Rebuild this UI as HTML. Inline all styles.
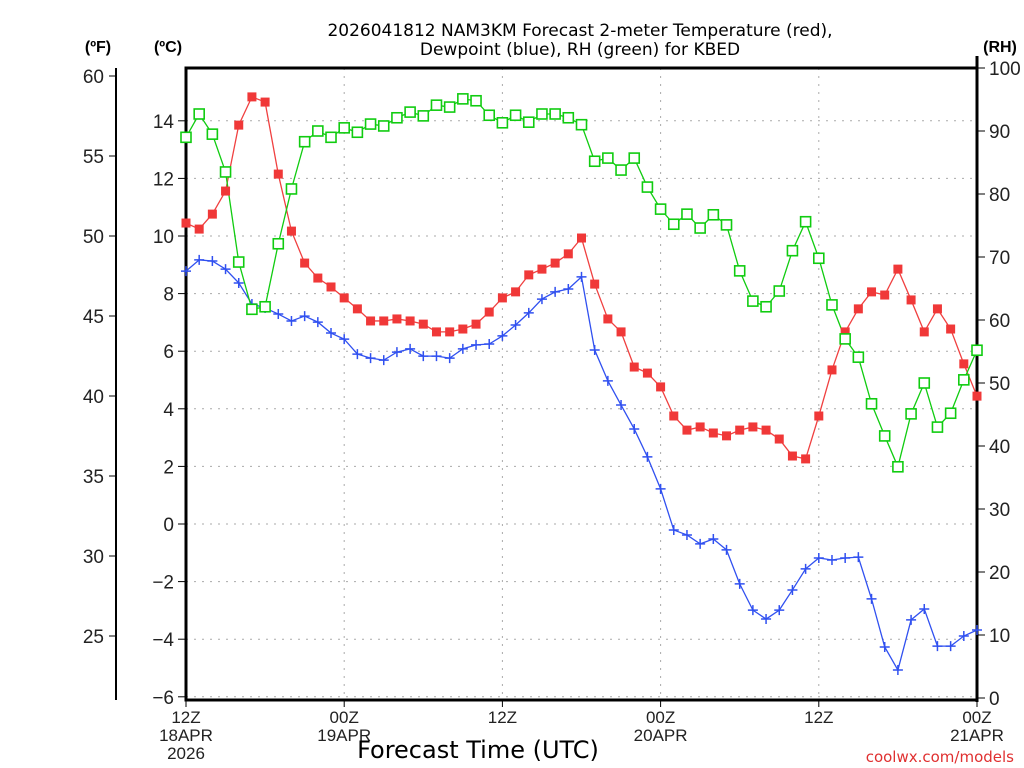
<!DOCTYPE html>
<html><head><meta charset="utf-8">
<style>
body{margin:0;background:#fff;}
svg{display:block;font-family:"Liberation Sans","DejaVu Sans",sans-serif;}
</style></head>
<body>
<svg id="chart" width="1024" height="768" viewBox="0 0 1024 768" xmlns="http://www.w3.org/2000/svg">
<rect width="1024" height="768" fill="#fff"/>
<g id="grid"></g>
<g id="axes"></g>
<g id="series"></g>
<text x="580" y="36" text-anchor="middle" font-size="17" font-family="DejaVu Sans,sans-serif">2026041812 NAM3KM Forecast 2-meter Temperature (red),</text>
<text x="580" y="55" text-anchor="middle" font-size="17" font-family="DejaVu Sans,sans-serif">Dewpoint (blue), RH (green) for KBED</text>
<text x="98" y="52" text-anchor="middle" font-size="16" font-weight="bold">(ºF)</text>
<text x="168" y="52" text-anchor="middle" font-size="16" font-weight="bold">(ºC)</text>
<text x="1000" y="52" text-anchor="middle" font-size="16" font-weight="bold">(RH)</text>
<text x="478" y="758" text-anchor="middle" font-size="24" font-family="DejaVu Sans,sans-serif">Forecast Time (UTC)</text>
<text x="1014" y="762" text-anchor="end" font-size="15" fill="#e03030" font-family="DejaVu Sans,sans-serif">coolwx.com/models</text>
</svg>
<script>
const hours = [];
for (let h = 0; h <= 60; h++) hours.push(h);
const tempC = [10.45,10.24,10.76,11.56,13.85,14.83,14.65,12.15,10.17,9.06,8.54,8.23,7.85,7.47,7.05,7.05,7.12,7.05,6.94,6.67,6.67,6.77,6.94,7.36,7.85,8.06,8.65,8.85,9.06,9.38,9.93,8.33,7.12,6.67,5.45,5.24,4.76,3.75,3.26,3.37,3.16,3.06,3.26,3.37,3.26,2.95,2.36,2.26,3.75,5.35,6.67,7.47,8.06,7.95,8.85,7.78,6.67,7.47,6.77,5.56,4.44];
const dewC = [8.78,9.17,9.13,8.85,8.37,7.64,7.5,7.29,7.05,7.22,7.01,6.63,6.42,5.9,5.76,5.69,5.97,6.08,5.83,5.83,5.76,6.08,6.22,6.25,6.53,6.91,7.33,7.81,8.06,8.16,8.58,6.04,4.97,4.13,3.3,2.33,1.22,-0.21,-0.38,-0.69,-0.52,-0.9,-2.08,-2.99,-3.3,-2.99,-2.29,-1.56,-1.18,-1.25,-1.18,-1.15,-2.6,-4.27,-5.07,-3.33,-2.95,-4.24,-4.24,-3.89,-3.68];
const rh = [89.0,92.7,89.5,83.5,69.2,61.7,62.1,72.1,80.8,88.3,90.0,89.0,90.5,89.8,91.1,90.8,92.1,93.0,92.4,94.1,93.8,95.1,94.8,92.5,91.3,92.5,91.4,92.7,92.7,92.1,91.0,85.2,85.7,83.8,85.7,81.1,77.6,75.2,76.8,74.6,76.7,75.1,67.8,63.0,62.1,64.6,71.0,75.6,69.8,62.4,57.0,54.1,46.7,41.6,36.7,45.1,50.0,43.0,45.2,50.5,55.2];
const cTicks = [-6,-4,-2,0,2,4,6,8,10,12,14];
const fTicks = [25,30,35,40,45,50,55,60];
const rhTicks = [0,10,20,30,40,50,60,70,80,90,100];
const xTickHours = [0,12,24,36,48,60];
const xTickLabels = [["12Z","18APR","2026"],["00Z","19APR"],["12Z"],["00Z","20APR"],["12Z"],["00Z","21APR"]];

const NS = "http://www.w3.org/2000/svg";
const L = 186, R = 977, T = 68, B = 700;
const xs = h => L + (R - L) * h / 60;
const yC = c => 524 - 28.8 * c;
const yF = f => yC((f - 32) * 5 / 9);
const yRH = r => 698 - 6.3 * r;
function mk(tag, attrs, parent) {
  const e = document.createElementNS(NS, tag);
  for (const k in attrs) e.setAttribute(k, attrs[k]);
  parent.appendChild(e);
  return e;
}
const grid = document.getElementById('grid');
const axes = document.getElementById('axes');
const series = document.getElementById('series');

cTicks.forEach(c => {
  const y = yC(c);
  const g = mk('line', {x1: L, x2: R, y1: y, y2: y, stroke: '#aaa', 'stroke-dasharray': '2,6'}, grid);
  
  
  const t = mk('line', {x1: L - 8, x2: L, y1: y, y2: y, stroke: '#000'}, axes);
  
  
  const tx = mk('text', {x: L - 12, y: y + 7, 'text-anchor': 'end', 'font-size': 19, fill: '#222'}, axes);
  tx.textContent = c < 0 ? '\u2212' + Math.abs(c) : String(c);
  
  
});
xTickHours.forEach((h, i) => {
  const x = xs(h);
  if (h > 0 && h < 60) {
    const g = mk('line', {x1: x, x2: x, y1: T, y2: B, stroke: '#aaa', 'stroke-dasharray': '2,6'}, grid);
    
    
  }
  const t = mk('line', {x1: x, x2: x, y1: B, y2: B + 7, stroke: '#000'}, axes);
  
  
  xTickLabels[i].forEach((s, j) => {
    const tx = mk('text', {x: x, y: 723 + j * 18, 'text-anchor': 'middle', 'font-size': 17, fill: '#222'}, axes);
    tx.textContent = s;
    
    
  });
});
fTicks.forEach(f => {
  const y = yF(f);
  const t = mk('line', {x1: 109, x2: 116, y1: y, y2: y, stroke: '#000'}, axes);
  
  
  const tx = mk('text', {x: 104, y: y + 7, 'text-anchor': 'end', 'font-size': 19, fill: '#222'}, axes);
  tx.textContent = String(f);
  
  
});
rhTicks.forEach(r => {
  const y = yRH(r);
  const t = mk('line', {x1: R, x2: R + 8, y1: y, y2: y, stroke: '#000'}, axes);
  
  
  const tx = mk('text', {x: 989, y: y + 7, 'font-size': 19, fill: '#222'}, axes);
  tx.textContent = String(r);
  
  
});
const fAxis = mk('line', {x1: 116, x2: 116, y1: 68, y2: 700, stroke: '#000', 'stroke-width': 2}, axes);


const frame = mk('path', {d: `M${R},${T} H${L} V${B} H${R}`, fill: 'none', stroke: '#000', 'stroke-width': 3}, axes);


const rAxis = mk('line', {x1: R, x2: R, y1: T - 12, y2: B + 2, stroke: '#000', 'stroke-width': 3}, axes);



function line(vals, yf, color, name) {
  const p = mk('polyline', {points: vals.map((v, i) => xs(hours[i]) + ',' + yf(v)).join(' '), fill: 'none', stroke: color, 'stroke-width': 1.3}, series);
  
  
}
line(tempC, yC, '#f04040', 'temperature');
line(dewC, yC, '#3050f0', 'dewpoint');
line(rh, yRH, '#10cc10', 'rh');
tempC.forEach((v, i) => {
  const m = mk('rect', {x: xs(hours[i]) - 4.5, y: yC(v) - 4.5, width: 9, height: 9, fill: '#f03838'}, series);
  
  
});
dewC.forEach((v, i) => {
  const x = xs(hours[i]), y = yC(v);
  const m = mk('path', {d: `M${x - 5},${y} H${x + 5} M${x},${y - 5} V${y + 5}`, stroke: '#3050f0', 'stroke-width': 1.5}, series);
  
  
});
rh.forEach((v, i) => {
  const m = mk('rect', {x: xs(hours[i]) - 5, y: yRH(v) - 5, width: 10, height: 10, fill: '#fff', stroke: '#10cc10', 'stroke-width': 1.6}, series);
  
  
});
</script>
</body></html>
